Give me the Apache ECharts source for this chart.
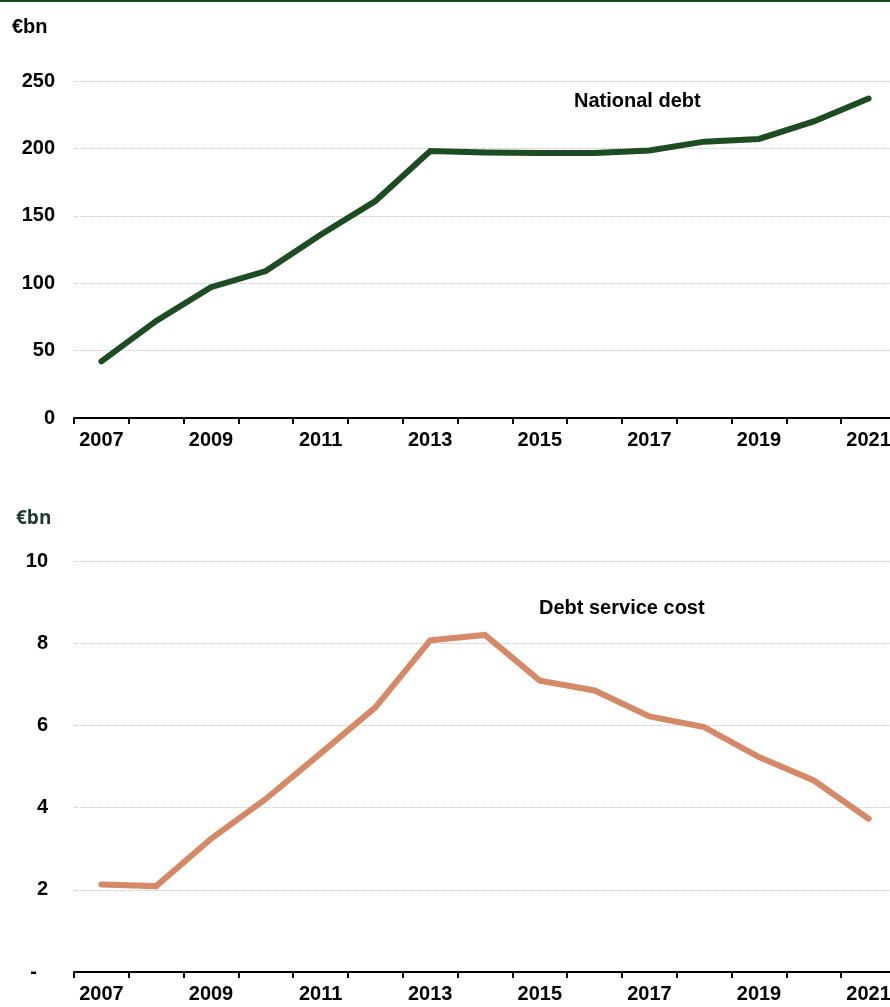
<!DOCTYPE html>
<html>
<head>
<meta charset="utf-8">
<script src="https://cdn.jsdelivr.net/npm/echarts@6/dist/echarts.min.js"></script>
<style>
html, body { margin: 0; padding: 0; overflow: hidden; background: #fff; }
#debtChart { width: 896px; height: 1007px; }
</style>
</head>
<body>
<div id="debtChart"></div>
<script>
// data
const years = ['2007','2008','2009','2010','2011','2012','2013','2014','2015','2016','2017','2018','2019','2020','2021'];
const nationalDebt = [42, 72, 97, 109, 136, 161, 198, 197, 196.5, 196.5, 198.5, 205, 207, 220, 237];
const debtServiceCost = [2.13, 2.09, 3.24, 4.21, 5.32, 6.44, 8.07, 8.2, 7.09, 6.85, 6.22, 5.96, 5.23, 4.66, 3.73];

const labelFont = { fontFamily: 'Liberation Sans, Arial, sans-serif', fontSize: 20, fontWeight: 'bold', color: '#000' };

function xAxisCfg(gridIndex) {
  return {
    type: 'category',
    gridIndex: gridIndex,
    data: years,
    boundaryGap: true,
    axisLine: { lineStyle: { color: '#000', width: 2 } },
    axisTick: { show: true, length: 6, interval: 0, lineStyle: { color: '#000', width: 2 } },
    axisLabel: Object.assign({ interval: 1, margin: 12 }, labelFont),
    splitLine: { show: false }
  };
}

const chart = echarts.init(document.getElementById('debtChart'));
chart.setOption({
  animation: false,
  grid: [
    { left: 74, top: 81, width: 822, height: 337, containLabel: false },
    { left: 74, top: 561, width: 822, height: 411, containLabel: false }
  ],
  xAxis: [xAxisCfg(0), xAxisCfg(1)],
  yAxis: [
    {
      type: 'value', gridIndex: 0, min: 0, max: 250, interval: 50,
      axisLine: { show: false }, axisTick: { show: false },
      axisLabel: Object.assign({ margin: 19 }, labelFont),
      splitLine: { show: true, lineStyle: { color: '#c4c4c4', type: 'dotted', width: 1 } }
    },
    {
      type: 'value', gridIndex: 1, min: 0, max: 10, interval: 2,
      axisLine: { show: false }, axisTick: { show: false },
      axisLabel: Object.assign({
        margin: 26,
        formatter: function (v) { return v === 0 ? '{d|-}' : String(v); },
        rich: { d: { fontFamily: 'Liberation Sans, Arial, sans-serif', fontSize: 20, fontWeight: 'bold', color: '#000', padding: [0, 11, 0, 0] } }
      }, labelFont),
      splitLine: { show: true, lineStyle: { color: '#c4c4c4', type: 'dotted', width: 1 } }
    }
  ],
  series: [
    {
      name: 'National debt', type: 'line', xAxisIndex: 0, yAxisIndex: 0,
      data: nationalDebt, showSymbol: false,
      lineStyle: { color: '#1d4b22', width: 6, cap: 'round', join: 'miter' }
    },
    {
      name: 'Debt service cost', type: 'line', xAxisIndex: 1, yAxisIndex: 1,
      data: debtServiceCost, showSymbol: false,
      lineStyle: { color: '#d58966', width: 6, cap: 'round', join: 'miter' }
    }
  ],
  graphic: [
    { type: 'rect', left: 0, top: 0, shape: { width: 896, height: 2 }, style: { fill: '#1a4a1f' } },
    { type: 'text', left: 12, top: 17, style: { text: '€bn', font: 'bold 20px "Liberation Sans", Arial, sans-serif', fill: '#000' } },
    { type: 'text', left: 16, top: 509, style: { text: '€bn', font: 'bold 19px "Open Sans", sans-serif', fill: '#1f3b2b' } },
    { type: 'text', left: 574, top: 91, style: { text: 'National debt', font: 'bold 20px "Liberation Sans", Arial, sans-serif', fill: '#000' } },
    { type: 'text', left: 539, top: 598, style: { text: 'Debt service cost', font: 'bold 20px "Liberation Sans", Arial, sans-serif', fill: '#000' } }
  ]
});
</script>
</body>
</html>
